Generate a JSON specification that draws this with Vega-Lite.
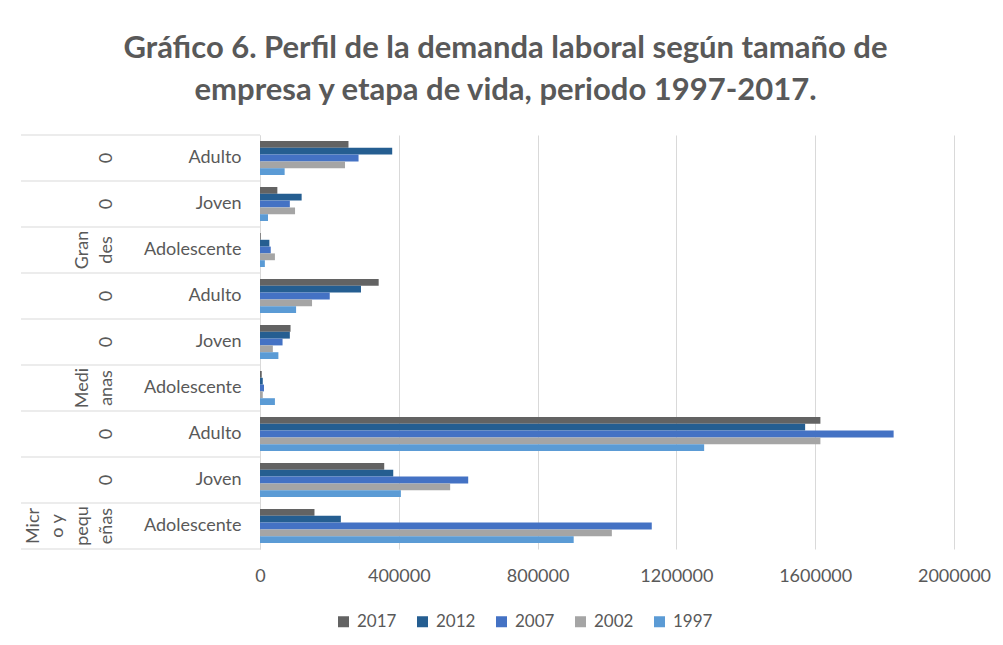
{
  "$schema": "https://vega.github.io/schema/vega-lite/v6.json",
  "background": "white",
  "padding": {"left": 20, "top": 32, "right": 0, "bottom": 0},
  "title": {
    "text": ["Gráfico 6. Perfil de la demanda laboral según tamaño de", "empresa y etapa de vida, periodo 1997-2017."],
    "font": "Lato",
    "fontSize": 31,
    "fontWeight": "bold",
    "color": "#595959",
    "lineHeight": 42,
    "anchor": "middle",
    "dx": 0,
    "offset": 28
  },
  "datasets": {
    "barras": [
      {"fila": "Grandes|Adulto", "anio": "2017", "valor": 255000},
      {"fila": "Grandes|Adulto", "anio": "2012", "valor": 381000},
      {"fila": "Grandes|Adulto", "anio": "2007", "valor": 284000},
      {"fila": "Grandes|Adulto", "anio": "2002", "valor": 245000},
      {"fila": "Grandes|Adulto", "anio": "1997", "valor": 71000},
      {"fila": "Grandes|Joven", "anio": "2017", "valor": 50000},
      {"fila": "Grandes|Joven", "anio": "2012", "valor": 120000},
      {"fila": "Grandes|Joven", "anio": "2007", "valor": 86000},
      {"fila": "Grandes|Joven", "anio": "2002", "valor": 101000},
      {"fila": "Grandes|Joven", "anio": "1997", "valor": 23000},
      {"fila": "Grandes|Adolescente", "anio": "2017", "valor": 2000},
      {"fila": "Grandes|Adolescente", "anio": "2012", "valor": 27000},
      {"fila": "Grandes|Adolescente", "anio": "2007", "valor": 31000},
      {"fila": "Grandes|Adolescente", "anio": "2002", "valor": 43000},
      {"fila": "Grandes|Adolescente", "anio": "1997", "valor": 14000},
      {"fila": "Medianas|Adulto", "anio": "2017", "valor": 342000},
      {"fila": "Medianas|Adulto", "anio": "2012", "valor": 291000},
      {"fila": "Medianas|Adulto", "anio": "2007", "valor": 201000},
      {"fila": "Medianas|Adulto", "anio": "2002", "valor": 150000},
      {"fila": "Medianas|Adulto", "anio": "1997", "valor": 104000},
      {"fila": "Medianas|Joven", "anio": "2017", "valor": 88000},
      {"fila": "Medianas|Joven", "anio": "2012", "valor": 86000},
      {"fila": "Medianas|Joven", "anio": "2007", "valor": 65000},
      {"fila": "Medianas|Joven", "anio": "2002", "valor": 37000},
      {"fila": "Medianas|Joven", "anio": "1997", "valor": 53000},
      {"fila": "Medianas|Adolescente", "anio": "2017", "valor": 5000},
      {"fila": "Medianas|Adolescente", "anio": "2012", "valor": 8000},
      {"fila": "Medianas|Adolescente", "anio": "2007", "valor": 11500},
      {"fila": "Medianas|Adolescente", "anio": "2002", "valor": 8000},
      {"fila": "Medianas|Adolescente", "anio": "1997", "valor": 43000},
      {"fila": "Micro|Adulto", "anio": "2017", "valor": 1615000},
      {"fila": "Micro|Adulto", "anio": "2012", "valor": 1571000},
      {"fila": "Micro|Adulto", "anio": "2007", "valor": 1826000},
      {"fila": "Micro|Adulto", "anio": "2002", "valor": 1615000},
      {"fila": "Micro|Adulto", "anio": "1997", "valor": 1280000},
      {"fila": "Micro|Joven", "anio": "2017", "valor": 358000},
      {"fila": "Micro|Joven", "anio": "2012", "valor": 384000},
      {"fila": "Micro|Joven", "anio": "2007", "valor": 600000},
      {"fila": "Micro|Joven", "anio": "2002", "valor": 548000},
      {"fila": "Micro|Joven", "anio": "1997", "valor": 406000},
      {"fila": "Micro|Adolescente", "anio": "2017", "valor": 157000},
      {"fila": "Micro|Adolescente", "anio": "2012", "valor": 233000},
      {"fila": "Micro|Adolescente", "anio": "2007", "valor": 1129000},
      {"fila": "Micro|Adolescente", "anio": "2002", "valor": 1014000},
      {"fila": "Micro|Adolescente", "anio": "1997", "valor": 904000}
    ],
    "filas": [
      {"fila": "Grandes|Adulto"},
      {"fila": "Grandes|Joven"},
      {"fila": "Grandes|Adolescente"},
      {"fila": "Medianas|Adulto"},
      {"fila": "Medianas|Joven"},
      {"fila": "Medianas|Adolescente"},
      {"fila": "Micro|Adulto"},
      {"fila": "Micro|Joven"},
      {"fila": "Micro|Adolescente"}
    ],
    "etiquetas": [
      {"fila": "Grandes|Adulto", "linea": "c4", "texto": "0"},
      {"fila": "Grandes|Joven", "linea": "c4", "texto": "0"},
      {"fila": "Grandes|Adolescente", "linea": "c3", "texto": "Gran"},
      {"fila": "Grandes|Adolescente", "linea": "c4", "texto": "des"},
      {"fila": "Medianas|Adulto", "linea": "c4", "texto": "0"},
      {"fila": "Medianas|Joven", "linea": "c4", "texto": "0"},
      {"fila": "Medianas|Adolescente", "linea": "c3", "texto": "Medi"},
      {"fila": "Medianas|Adolescente", "linea": "c4", "texto": "anas"},
      {"fila": "Micro|Adulto", "linea": "c4", "texto": "0"},
      {"fila": "Micro|Joven", "linea": "c4", "texto": "0"},
      {"fila": "Micro|Adolescente", "linea": "c1", "texto": "Micr"},
      {"fila": "Micro|Adolescente", "linea": "c2", "texto": "o y"},
      {"fila": "Micro|Adolescente", "linea": "c3", "texto": "pequ"},
      {"fila": "Micro|Adolescente", "linea": "c4", "texto": "eñas"}
    ]
  },
  "spacing": 0,
  "bounds": "flush",
  "hconcat": [
    {
      "width": 239,
      "height": 414,
      "layer": [
        {
          "data": {"name": "filas"},
          "mark": {"type": "rule", "color": "#d9d9d9", "strokeWidth": 1},
          "encoding": {
            "y": {"field": "fila", "type": "nominal", "bandPosition": 0,
              "scale": {"domain": ["Grandes|Adulto", "Grandes|Joven", "Grandes|Adolescente", "Medianas|Adulto", "Medianas|Joven", "Medianas|Adolescente", "Micro|Adulto", "Micro|Joven", "Micro|Adolescente"], "paddingInner": 0, "paddingOuter": 0},
              "axis": null}
          }
        },
        {
          "data": {"name": "filas"},
          "transform": [{"filter": "datum.fila == 'Micro|Adolescente'"}],
          "mark": {"type": "rule", "color": "#d9d9d9", "strokeWidth": 1},
          "encoding": {
            "y": {"field": "fila", "type": "nominal", "bandPosition": 1, "axis": null}
          }
        },
        {
          "data": {"name": "etiquetas"},
          "mark": {"type": "text", "angle": 270, "align": "center", "baseline": "middle", "font": "Lato", "fontSize": 18, "color": "#595959"},
          "encoding": {
            "y": {"field": "fila", "type": "nominal", "axis": null},
            "x": {"field": "linea", "type": "nominal", "scale": {"type": "point", "domain": ["c1", "c2", "c3", "c4"], "range": [13, 86], "padding": 0}, "axis": null},
            "text": {"field": "texto"}
          }
        }
      ]
    },
    {
      "width": 694,
      "height": 414,
      "data": {"name": "barras"},
      "mark": {"type": "bar"},
      "encoding": {
        "y": {"field": "fila", "type": "nominal",
          "scale": {"domain": ["Grandes|Adulto", "Grandes|Joven", "Grandes|Adolescente", "Medianas|Adulto", "Medianas|Joven", "Medianas|Adolescente", "Micro|Adulto", "Micro|Joven", "Micro|Adolescente"], "paddingInner": 0.26, "paddingOuter": 0.13},
          "axis": {"labelExpr": "split(datum.value, '|')[1]", "ticks": false, "title": null, "grid": false, "domainColor": "#d9d9d9", "labelFont": "Lato", "labelFontSize": 18, "labelColor": "#595959", "labelPadding": 19}},
        "yOffset": {"field": "anio", "type": "nominal", "scale": {"domain": ["2017", "2012", "2007", "2002", "1997"]}},
        "x": {"field": "valor", "type": "quantitative",
          "scale": {"domain": [0, 2000000], "nice": false},
          "axis": {"values": [0, 400000, 800000, 1200000, 1600000, 2000000], "format": "d", "title": null, "domain": false, "ticks": false, "gridColor": "#d9d9d9", "labelFont": "Lato", "labelFontSize": 18, "labelColor": "#595959", "labelPadding": 18, "labelFlush": false}},
        "color": {"field": "anio", "type": "nominal",
          "scale": {"domain": ["2017", "2012", "2007", "2002", "1997"], "range": ["#636363", "#255e91", "#4472c4", "#a5a5a5", "#5b9bd5"]},
          "legend": {"orient": "none", "legendX": 314, "legendY": 478, "padding": 0, "direction": "horizontal", "title": null, "symbolType": "square", "symbolSize": 121, "symbolStrokeWidth": 0, "labelFont": "Lato", "labelFontSize": 17, "labelColor": "#595959", "labelOffset": 5, "columnPadding": 17}}
      }
    }
  ],
  "config": {"view": {"stroke": null}, "font": "Lato"}
}
